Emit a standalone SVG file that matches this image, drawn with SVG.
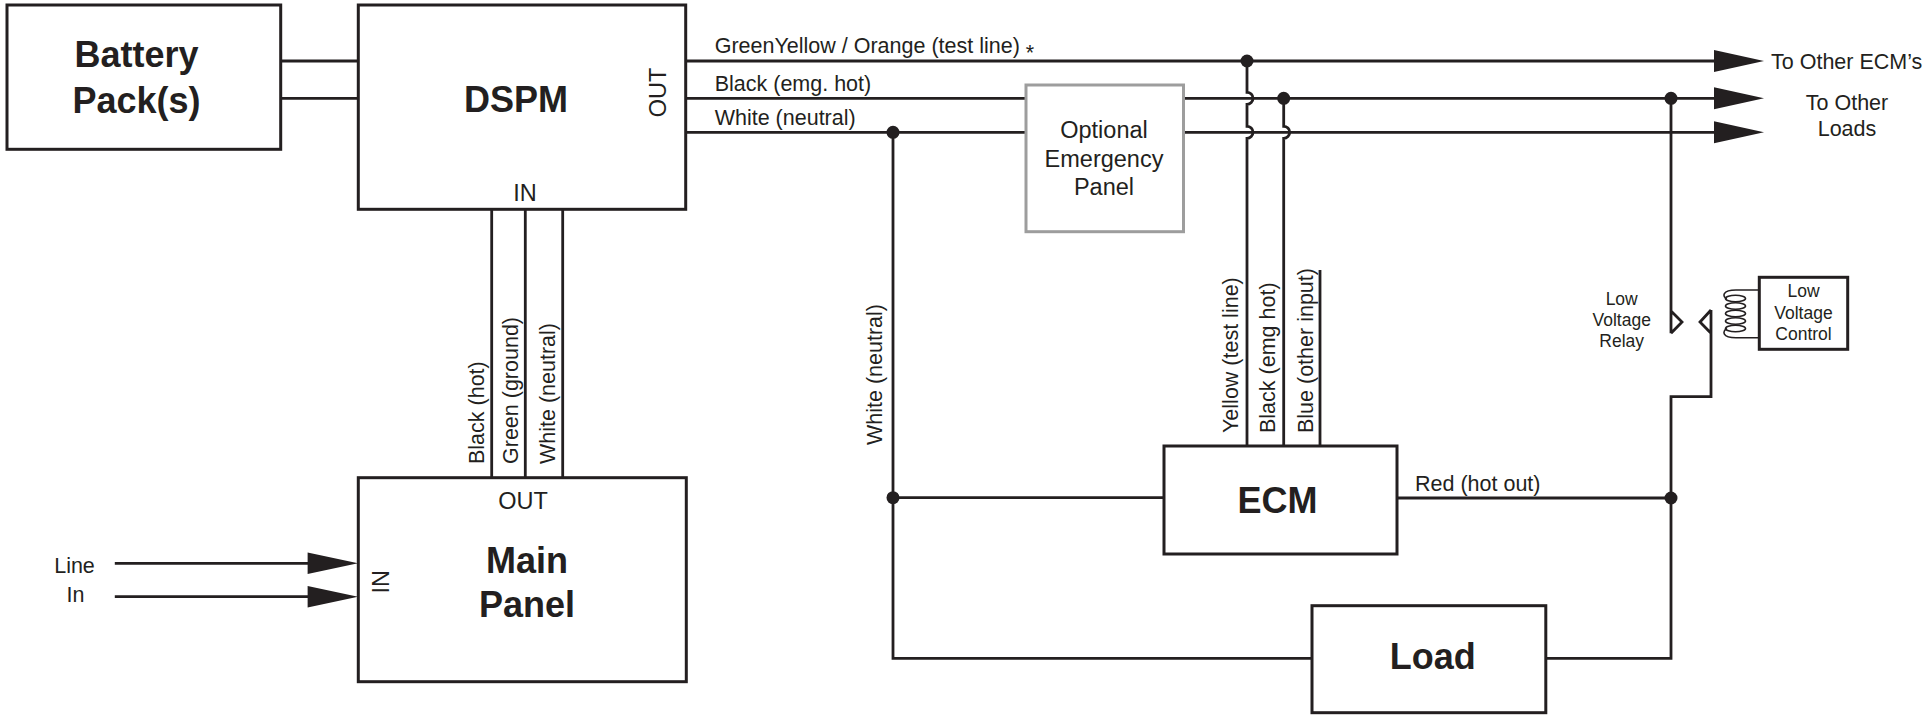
<svg xmlns="http://www.w3.org/2000/svg" width="1929" height="715" viewBox="0 0 1929 715">
<defs>
<style>
.box{fill:#fff;stroke:#231f20;stroke-width:3}
.gbox{fill:#fff;stroke:#9d9d9d;stroke-width:3}
.w{fill:none;stroke:#231f20;stroke-width:2.8}
.thin{fill:none;stroke:#231f20;stroke-width:1.6}
.t{font-family:"Liberation Sans",Arial,sans-serif;font-size:21.5px;fill:#231f20}
.t2{font-family:"Liberation Sans",Arial,sans-serif;font-size:23.5px;fill:#231f20;text-anchor:middle}
.p{font-family:"Liberation Sans",Arial,sans-serif;font-size:23.5px;fill:#231f20;text-anchor:middle}
.b{font-family:"Liberation Sans",Arial,sans-serif;font-size:36px;font-weight:bold;fill:#231f20;text-anchor:middle}
.s{font-family:"Liberation Sans",Arial,sans-serif;font-size:17.5px;fill:#231f20;text-anchor:middle}
.m{text-anchor:middle}
.dot{fill:#231f20}
.ah{fill:#231f20}
</style>
</defs>
<rect width="1929" height="715" fill="#fff"/>

<g id="connectors">
  <path class="w" d="M280.7,61 H358.3 M280.7,98.3 H358.3"/>
  <path class="w" d="M491.7,209.3 V477.7 M525.3,209.3 V477.7 M562.7,209.3 V477.7"/>
  <path class="w" d="M685.7,61 H1714"/>
  <path class="w" d="M685.7,98.3 H1026 M1183.5,98.3 H1714"/>
  <path class="w" d="M685.7,132.3 H1026 M1183.5,132.3 H1714"/>
  <path class="w" d="M893,132.3 V658.3 H1312"/>
  <path class="w" d="M893,497.7 H1164"/>
  <path class="w" d="M1247,61 V92.3 a6,6 0 0 1 0,12 V126.3 a6,6 0 0 1 0,12 V446"/>
  <path class="w" d="M1283.7,98.3 V126.3 a6,6 0 0 1 0,12 V446"/>
  <path class="w" d="M1320,270 V446"/>
  <path class="w" d="M1671,98.3 V333.3 M1671,311 L1682,322 L1671,333.3"/>
  <path class="w" d="M1711,310 L1700,322 L1711,333.3 M1711,310 V396.7 H1671 V658.3 H1545.8"/>
  <path class="w" d="M1397,498 H1671"/>
  <path class="w" d="M114.8,563.3 H308 M114.8,596.7 H308"/>
  <polygon class="ah" points="1714,50 1764,61 1714,72"/>
  <polygon class="ah" points="1714,87.3 1764,98.3 1714,109.3"/>
  <polygon class="ah" points="1714,121.3 1764,132.3 1714,143.3"/>
  <polygon class="ah" points="307.6,552.6 358,563.3 307.6,574"/>
  <polygon class="ah" points="307.6,586 358,596.7 307.6,607.4"/>
  <circle class="dot" cx="893" cy="132.3" r="6.5"/>
  <circle class="dot" cx="1247" cy="61" r="6.5"/>
  <circle class="dot" cx="1283.7" cy="98.3" r="6.5"/>
  <circle class="dot" cx="1671" cy="98.3" r="6.5"/>
  <circle class="dot" cx="893" cy="497.7" r="6.5"/>
  <circle class="dot" cx="1671" cy="498" r="6.5"/>
  <text class="t" x="714.7" y="53.3">GreenYellow / Orange (test line) <tspan dy="7">*</tspan></text>
  <text class="t" x="714.7" y="90.7">Black (emg. hot)</text>
  <text class="t" x="714.7" y="125">White (neutral)</text>
  <text class="t" transform="translate(483.7,464) rotate(-90)">Black (hot)</text>
  <text class="t" transform="translate(517.5,464) rotate(-90)">Green (ground)</text>
  <text class="t" transform="translate(554.8,464) rotate(-90)">White (neutral)</text>
  <text class="t" transform="translate(882.3,445) rotate(-90)">White (neutral)</text>
  <text class="t" transform="translate(1238.3,433) rotate(-90)">Yellow (test line)</text>
  <text class="t" transform="translate(1275,433) rotate(-90)">Black (emg hot)</text>
  <text class="t" transform="translate(1312.5,433) rotate(-90)">Blue (other input)</text>
  <text class="t" x="1415" y="490.7">Red (hot out)</text>
  <text class="t" x="1771" y="68.5">To Other ECM’s</text>
  <text class="t m" x="1847" y="110">To Other</text>
  <text class="t m" x="1847" y="136">Loads</text>
  <text class="t m" x="74.5" y="572.7">Line</text>
  <text class="t m" x="75.5" y="601.7">In</text>
</g>

<g id="battery">
  <rect class="box" x="7" y="5" width="273.7" height="144.3"/>
  <text class="b" x="136.5" y="66.7">Battery</text>
  <text class="b" x="136.5" y="113.3">Pack(s)</text>
</g>

<g id="dspm">
  <rect class="box" x="358.3" y="5" width="327.4" height="204.3"/>
  <text class="b" x="516" y="111.7">DSPM</text>
  <text class="p" transform="translate(666,92.5) rotate(-90)">OUT</text>
  <text class="p" x="525" y="200.5">IN</text>
</g>

<g id="main-panel">
  <rect class="box" x="358.3" y="477.7" width="328" height="204"/>
  <text class="p" x="523" y="509.3">OUT</text>
  <text class="b" x="527" y="573.3">Main</text>
  <text class="b" x="527" y="616.7">Panel</text>
  <text class="p" transform="translate(388.5,581.7) rotate(-90)">IN</text>
</g>

<g id="optional-emergency-panel">
  <rect class="gbox" x="1026" y="85" width="157.5" height="146.7"/>
  <text class="t2" x="1104" y="138.3">Optional</text>
  <text class="t2" x="1104" y="166.7">Emergency</text>
  <text class="t2" x="1104" y="195">Panel</text>
</g>

<g id="ecm">
  <rect class="box" x="1164" y="446" width="233" height="108"/>
  <text class="b" x="1277.5" y="512.5">ECM</text>
</g>

<g id="load">
  <rect class="box" x="1312" y="605.7" width="233.8" height="107"/>
  <text class="b" x="1432.7" y="669.3">Load</text>
</g>

<g id="low-voltage-relay">
  <text class="s" x="1621.7" y="305">Low</text>
  <text class="s" x="1621.7" y="326">Voltage</text>
  <text class="s" x="1621.7" y="347.3">Relay</text>
</g>

<g id="low-voltage-control">
  <path class="thin" d="M1759.3,290 H1736 C1722,290 1722,297 1727,298.5 M1759.3,337.7 H1736 C1722,337.7 1722,331 1727,328.5"/>
  <ellipse class="thin" cx="1735.5" cy="298.5" rx="10" ry="3.3"/>
  <ellipse class="thin" cx="1735.5" cy="306" rx="10" ry="3.3"/>
  <ellipse class="thin" cx="1735.5" cy="313.5" rx="10" ry="3.3"/>
  <ellipse class="thin" cx="1735.5" cy="321" rx="10" ry="3.3"/>
  <ellipse class="thin" cx="1735.5" cy="328.5" rx="10" ry="3.3"/>
  <rect class="box" x="1759.3" y="277.3" width="88.4" height="72"/>
  <text class="s" x="1803.5" y="297.3">Low</text>
  <text class="s" x="1803.5" y="319">Voltage</text>
  <text class="s" x="1803.5" y="340">Control</text>
</g>
</svg>
